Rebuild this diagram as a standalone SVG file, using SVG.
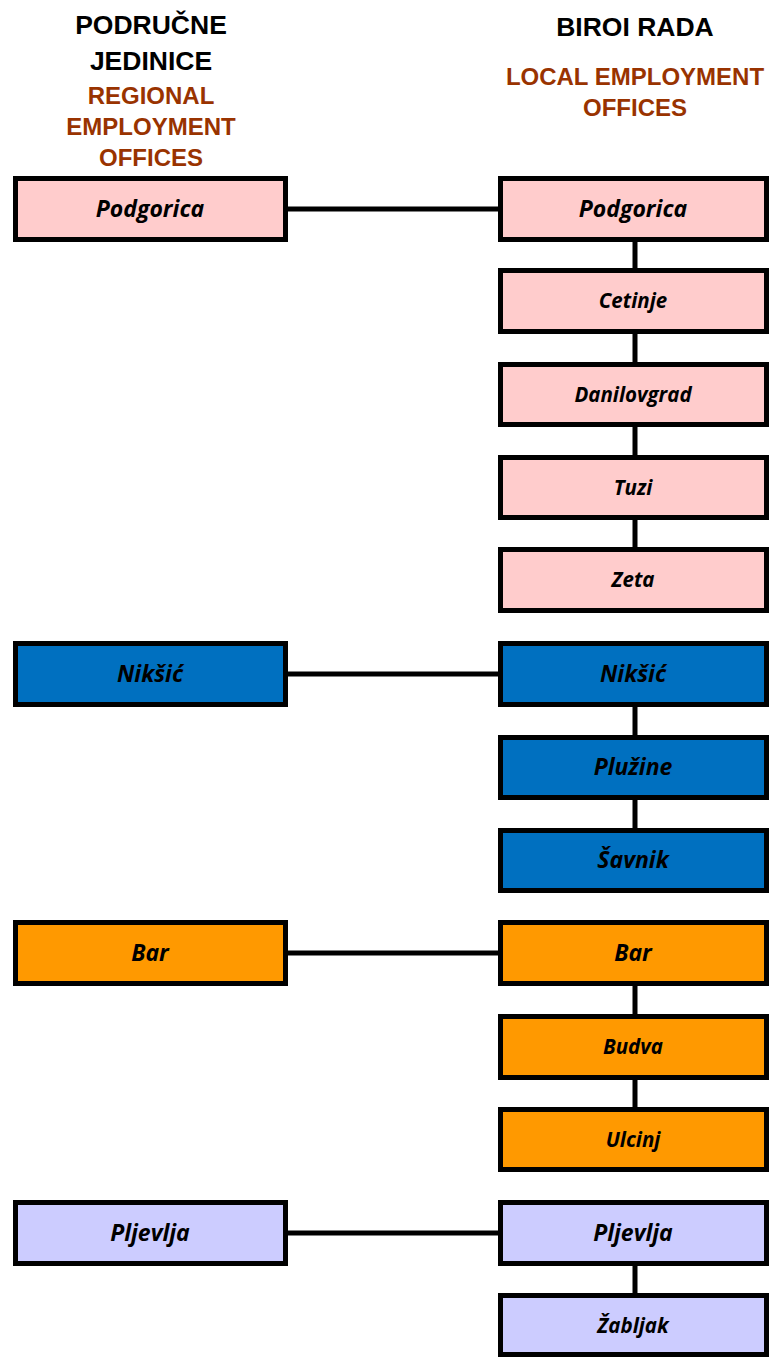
<svg xmlns="http://www.w3.org/2000/svg" width="769" height="1357" viewBox="0 0 769 1357">
<style>
.h{font-family:"Liberation Sans",Arial,sans-serif;font-weight:bold;font-size:26.5px;fill:#000;text-anchor:middle}
.o{font-family:"Liberation Sans",Arial,sans-serif;font-weight:bold;font-size:24px;fill:#993300;text-anchor:middle}
.b{stroke:#000;stroke-width:5}
.t{font-family:"Open Sans","Noto Sans",sans-serif;font-weight:bold;font-style:italic;fill:#000;text-anchor:middle}
.L{font-size:23px}.S{font-size:20.5px}
.pk{fill:#FFCCCC}.bl{fill:#0070C0}.or{fill:#FF9900}.lv{fill:#CCCCFF}
.c{stroke:#000;stroke-width:5;fill:none}
</style>
<g id="headers">
<text class="h" x="151" y="34">PODRUČNE</text>
<text class="h" x="151" y="70">JEDINICE</text>
<text class="o" x="151" y="104">REGIONAL</text>
<text class="o" x="151" y="135">EMPLOYMENT</text>
<text class="o" x="151" y="166">OFFICES</text>
<text class="h" x="635" y="36">BIROI RADA</text>
<text class="o" x="635" y="85">LOCAL EMPLOYMENT</text>
<text class="o" x="635" y="116">OFFICES</text>
</g>
<g id="connectors">
<path class="c" d="M288 209H500M288 674H500M288 953H500M288 1233H500"/>
<path class="c" d="M635 242V268M635 334V362M635 427V455M635 520V547M635 707V735M635 800V828M635 986V1014M635 1080V1107M635 1266V1293"/>
</g>
<g id="r-podgorica"><rect class="b pk" x="15.5" y="178.5" width="270" height="61"/><text class="t L" x="150" y="217">Podgorica</text></g>
<g id="r-niksic"><rect class="b bl" x="15.5" y="643.5" width="270" height="61"/><text class="t L" x="150" y="682">Nikšić</text></g>
<g id="r-bar"><rect class="b or" x="15.5" y="922.5" width="270" height="61"/><text class="t L" x="150" y="961">Bar</text></g>
<g id="r-pljevlja"><rect class="b lv" x="15.5" y="1202.5" width="270" height="61"/><text class="t L" x="150" y="1241">Pljevlja</text></g>
<g id="l-podgorica"><rect class="b pk" x="500.5" y="178.5" width="266" height="61"/><text class="t L" x="633" y="217">Podgorica</text></g>
<g id="l-cetinje"><rect class="b pk" x="500.5" y="270.5" width="266" height="61"/><text class="t S" x="633" y="308">Cetinje</text></g>
<g id="l-danilovgrad"><rect class="b pk" x="500.5" y="364.5" width="266" height="60"/><text class="t S" x="633" y="402">Danilovgrad</text></g>
<g id="l-tuzi"><rect class="b pk" x="500.5" y="457.5" width="266" height="60"/><text class="t S" x="633" y="495">Tuzi</text></g>
<g id="l-zeta"><rect class="b pk" x="500.5" y="549.5" width="266" height="61"/><text class="t S" x="633" y="587">Zeta</text></g>
<g id="l-niksic"><rect class="b bl" x="500.5" y="643.5" width="266" height="61"/><text class="t L" x="633" y="682">Nikšić</text></g>
<g id="l-pluzine"><rect class="b bl" x="500.5" y="737.5" width="266" height="60"/><text class="t L" x="633" y="775">Plužine</text></g>
<g id="l-savnik"><rect class="b bl" x="500.5" y="830.5" width="266" height="60"/><text class="t L" x="633" y="868">Šavnik</text></g>
<g id="l-bar"><rect class="b or" x="500.5" y="922.5" width="266" height="61"/><text class="t L" x="633" y="961">Bar</text></g>
<g id="l-budva"><rect class="b or" x="500.5" y="1016.5" width="266" height="61"/><text class="t S" x="633" y="1054">Budva</text></g>
<g id="l-ulcinj"><rect class="b or" x="500.5" y="1109.5" width="266" height="60"/><text class="t S" x="633" y="1147">Ulcinj</text></g>
<g id="l-pljevlja"><rect class="b lv" x="500.5" y="1202.5" width="266" height="61"/><text class="t L" x="633" y="1241">Pljevlja</text></g>
<g id="l-zabljak"><rect class="b lv" x="500.5" y="1295.5" width="266" height="59"/><text class="t S" x="633" y="1333">Žabljak</text></g>
</svg>
